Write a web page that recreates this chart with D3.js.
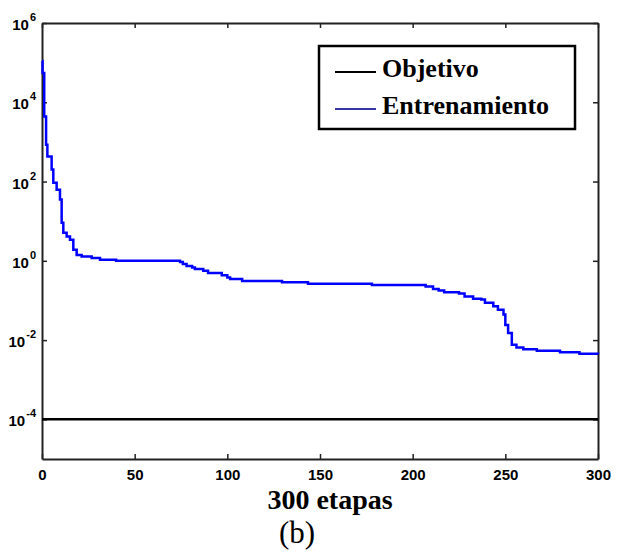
<!DOCTYPE html>
<html>
<head>
<meta charset="utf-8">
<script src="https://cdn.jsdelivr.net/npm/d3@7"></script>
<style>
  body { margin: 0; background: #fff; }
  .tick text { font-family: "Liberation Sans", Arial, sans-serif; font-weight: bold; fill: #000; }
</style>
</head>
<body>
<div id="chart"></div>
<script>
var svgWidth = 619;
var svgHeight = 554;

var margin = { top: 23, right: 21, bottom: 95, left: 42 };
var width = svgWidth - margin.left - margin.right;
var height = svgHeight - margin.top - margin.bottom;

// training error per epoch
var epochs = [0, 0.3, 1.2, 2.2, 2.9, 5.2, 6.1, 7.9, 9.7, 10.6, 11.5, 13.3, 15.1, 16.9, 18.7,
  21.4, 26.8, 31.3, 40, 74.5, 76, 78, 81, 82.5, 87, 89.6, 97, 100, 101.5, 108, 129.5,
  143.5, 178, 207, 211, 214, 217, 225, 228, 232.6, 237, 239, 243.5, 246, 249, 250,
  251.5, 253.5, 256, 259.7, 267, 279.5, 290, 300];
var trainError = [1.1e5, 5.5e4, 4.4e3, 850, 430, 200, 93, 62, 35, 9.1, 5.1, 4.1, 3.4, 1.9, 1.4,
  1.29, 1.17, 1.07, 1.0, 0.93, 0.83, 0.74, 0.68, 0.62, 0.56, 0.49, 0.43, 0.38, 0.35, 0.31, 0.288,
  0.263, 0.245, 0.224, 0.195, 0.178, 0.162, 0.15, 0.126, 0.11, 0.105, 0.087, 0.071, 0.058, 0.044, 0.024,
  0.015, 0.0076, 0.0065, 0.0059, 0.0054, 0.0049, 0.0045, 0.0044];
var goal = 1e-4;

var xTicks = [0, 50, 100, 150, 200, 250, 300];
var yTicks = [1e-4, 1e-2, 1, 1e2, 1e4, 1e6];
var yExponents = ["-4", "-2", "0", "2", "4", "6"];

var legendLabels = ["Objetivo", "Entrenamiento"];
var legendColors = ["#000", "#3535a8"];

var svg = d3.select("#chart")
  .append("svg")
  .attr("width", svgWidth)
  .attr("height", svgHeight);

var chartGroup = svg.append("g")
  .attr("transform", `translate(${margin.left}, ${margin.top})`);

var xScale = d3.scaleLinear().domain([0, 300]).range([0, width]);
var yScale = d3.scaleLog().domain([1e-5, 1e6]).range([height, 0]);

// axes on all four sides, ticks pointing in
var bottomAxis = d3.axisBottom(xScale).tickValues(xTicks).tickSizeInner(-5).tickSizeOuter(0).tickPadding(10);
var topAxis = d3.axisTop(xScale).tickValues(xTicks).tickSizeInner(-5).tickSizeOuter(0).tickFormat("");
var leftAxis = d3.axisLeft(yScale).tickValues(yTicks).tickSizeInner(-5).tickSizeOuter(0).tickPadding(6);
var rightAxis = d3.axisRight(yScale).tickValues(yTicks).tickSizeInner(-5).tickSizeOuter(0).tickFormat("");

var xAxis = chartGroup.append("g")
  .attr("transform", `translate(0, ${height})`)
  .call(bottomAxis);
xAxis.selectAll(".tick text").attr("font-size", "15px");
chartGroup.append("g").call(topAxis);
var yAxis = chartGroup.append("g").call(leftAxis);
chartGroup.append("g")
  .attr("transform", `translate(${width}, 0)`)
  .call(rightAxis);

chartGroup.selectAll(".domain").attr("stroke", "#222").attr("stroke-width", 2);
chartGroup.selectAll(".tick line").attr("stroke", "#222").attr("stroke-width", 1.5);

// y labels: "10" with a small raised exponent
yAxis.selectAll(".tick text")
  .each(function(d, i) {
    var t = d3.select(this);
    t.text("").attr("dy", null).attr("y", 6.5);
    t.append("tspan").attr("font-size", "15px").text("10");
    t.append("tspan").attr("font-size", "11px").attr("dx", 1).attr("dy", -9).text(yExponents[i]);
  });

// goal line
chartGroup.append("line")
  .attr("x1", 0)
  .attr("x2", width)
  .attr("y1", yScale(goal))
  .attr("y2", yScale(goal))
  .attr("stroke", "#000")
  .attr("stroke-width", 2.5);

// training curve
var trainData = epochs.map((e, i) => ({ epoch: e, value: trainError[i] }));
var line = d3.line()
  .x(d => xScale(d.epoch))
  .y(d => yScale(d.value))
  .curve(d3.curveStepAfter);

chartGroup.append("path")
  .datum(trainData)
  .attr("fill", "none")
  .attr("stroke", "#0000ff")
  .attr("stroke-width", 2.5)
  .attr("d", line);

// legend
var legend = svg.append("g").attr("transform", "translate(319, 46)");
legend.append("rect")
  .attr("width", 256)
  .attr("height", 83)
  .attr("fill", "#fff")
  .attr("stroke", "#000")
  .attr("stroke-width", 2.5);

legendLabels.forEach(function(label, i) {
  var y = 26 + i * 37;
  legend.append("line")
    .attr("x1", 16)
    .attr("x2", 57)
    .attr("y1", y)
    .attr("y2", y)
    .attr("stroke", legendColors[i])
    .attr("stroke-width", 2);
  legend.append("text")
    .attr("x", 63)
    .attr("y", y + 5)
    .attr("font-family", "Liberation Serif, serif")
    .attr("font-weight", "bold")
    .attr("font-size", "26px")
    .text(label);
});

// x label and caption
svg.append("text")
  .attr("x", 330)
  .attr("y", 509)
  .attr("text-anchor", "middle")
  .attr("font-family", "Liberation Serif, serif")
  .attr("font-weight", "bold")
  .attr("font-size", "28px")
  .text("300 etapas");

svg.append("text")
  .attr("x", 297)
  .attr("y", 543)
  .attr("text-anchor", "middle")
  .attr("font-family", "Liberation Serif, serif")
  .attr("font-size", "31px")
  .text("(b)");
</script>
</body>
</html>
